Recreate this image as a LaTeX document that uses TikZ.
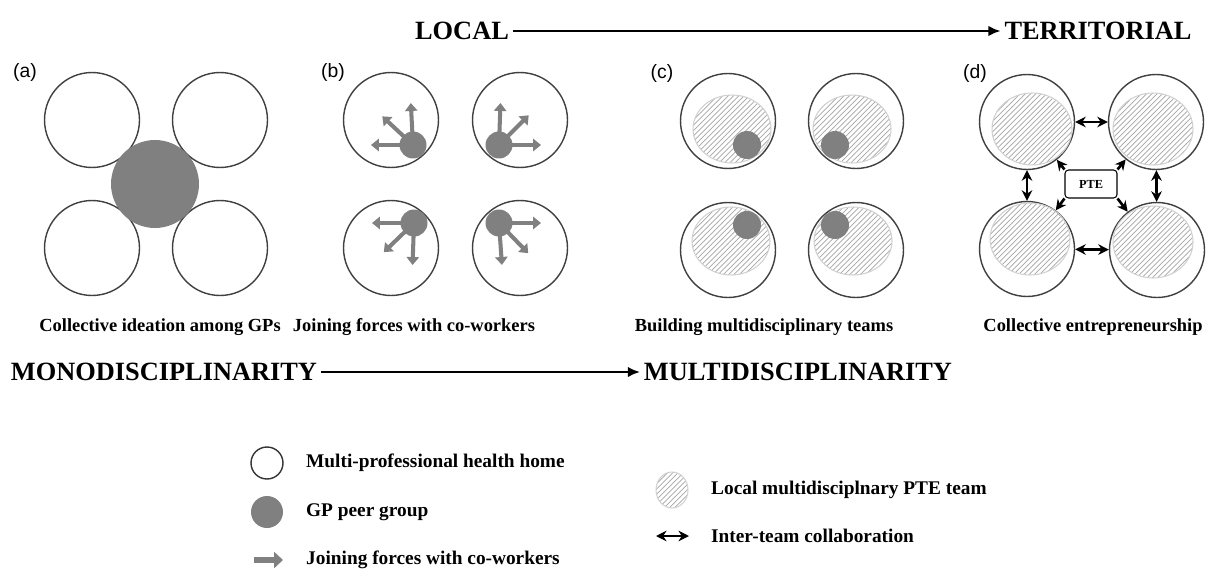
\documentclass[tikz,border=0pt]{standalone}
\usepackage{fontspec}
\setmainfont{Liberation Serif}
\newfontfamily\tagfont{Liberation Sans}
\usetikzlibrary{arrows.meta,shapes.geometric,patterns}

\definecolor{peergray}{RGB}{128,128,128}

\begin{document}
\begin{tikzpicture}[x=0.02cm, y=-0.02cm,
  home/.style={circle, draw=black!75, line width=0.8pt, fill=white,
    minimum size=1.9cm, inner sep=0pt},
  team/.style={ellipse, draw=black!18, line width=0.6pt,
    pattern=north east lines, pattern color=black!35,
    minimum width=1.56cm, minimum height=1.36cm, inner sep=0pt},
  peer/.style={circle, fill=peergray, minimum size=0.54cm, inner sep=0pt},
  tag/.style={font=\tagfont\fontsize{11}{13}\selectfont},
  caption/.style={font=\bfseries\fontsize{10.5}{12}\selectfont},
  axis/.style={font=\bfseries\fontsize{15}{18}\selectfont, inner sep=2pt},
  legtext/.style={font=\bfseries\fontsize{11}{13}\selectfont, anchor=west},
  bigarr/.style={-{Latex[length=7pt,width=6pt]}, line width=1.6pt},
  fatarr/.style={-{Triangle[length=4.5pt,width=7pt]}, line width=2.3pt, draw=peergray},
  linkarr/.style={{Stealth[length=6pt,width=6pt]}-{Stealth[length=6pt,width=6pt]},
    line width=1.5pt},
  ptearr/.style={-{Stealth[length=6pt,width=6pt]}, line width=1.5pt},
]
\useasboundingbox (0,0) rectangle (1220,571);

% Rows
\def\rowtop{31}
\def\rowcap{327}
\def\rowaxis{372}

% ============================================================
% Top axis
% ============================================================
\node[axis] (local) at (462,\rowtop) {LOCAL};
\node[axis] (terr) at (1098,\rowtop) {TERRITORIAL};
\draw[bigarr] (local) -- (terr);

% ============================================================
% (a) Collective ideation
% ============================================================
\node[tag] (taga) at (25,72) {(a)};
\node[home] (a1) at (92,120) {};
\node[home] (a2) at (220,120) {};
\node[home] (a3) at (92,248) {};
\node[home] (a4) at (220,248) {};
\node[peer, minimum size=1.76cm] (a0) at (155,184) {};
\node[caption] (capa) at (160,\rowcap) {Collective ideation among GPs};

% ============================================================
% (b) Joining forces
% ============================================================
\node[tag] (tagb) at (333,72) {(b)};
\node[home] (b1) at (391,120) {};
\node[home] (b2) at (520,120) {};
\node[home] (b3) at (391,248) {};
\node[home] (b4) at (520,248) {};

% y runs downwards, so angles are negated
\coordinate (b1p) at (413,145);
\coordinate (b2p) at (499,145);
\coordinate (b3p) at (414,223);
\coordinate (b4p) at (499,223);
\foreach \a in {93,137,180} \draw[fatarr] (b1p) -- ++(-\a:42);
\foreach \a in {88,45,0} \draw[fatarr] (b2p) -- ++(-\a:42);
\foreach \a in {180,224,268} \draw[fatarr] (b3p) -- ++(-\a:42);
\foreach \a in {0,314,274} \draw[fatarr] (b4p) -- ++(-\a:42);
\node[peer] (b1d) at (b1p) {};
\node[peer] (b2d) at (b2p) {};
\node[peer] (b3d) at (b3p) {};
\node[peer] (b4d) at (b4p) {};
\node[caption] (capb) at (414,\rowcap) {Joining forces with co-workers};

% ============================================================
% (c) Multidisciplinary teams
% ============================================================
\node[tag] (tagc) at (662,73) {(c)};
\node[home] (c1) at (728,121) {};
\node[home] (c2) at (856,121) {};
\node[home] (c3) at (728,250) {};
\node[home] (c4) at (856,250) {};
\node[team] (c1t) at (732,129) {};
\node[team] (c2t) at (852,129) {};
\node[team] (c3t) at (731,241) {};
\node[team] (c4t) at (853,241) {};
\node[peer, minimum size=0.56cm] (c1d) at (747,145) {};
\node[peer, minimum size=0.56cm] (c2d) at (835,145) {};
\node[peer, minimum size=0.56cm] (c3d) at (747,225) {};
\node[peer, minimum size=0.56cm] (c4d) at (835,225) {};
\node[caption] (capc) at (764,\rowcap) {Building multidisciplinary teams};

% ============================================================
% (d) Collective entrepreneurship
% ============================================================
\node[tag] (tagd) at (975,73) {(d)};
\node[home] (d1) at (1027,122) {};
\node[home] (d2) at (1156,122) {};
\node[home] (d3) at (1027,249) {};
\node[home] (d4) at (1157,250) {};
\node[team, minimum width=1.6cm, minimum height=1.44cm] (d1t) at (1032,129) {};
\node[team, minimum width=1.6cm, minimum height=1.44cm] (d2t) at (1153,129) {};
\node[team, minimum width=1.6cm, minimum height=1.44cm] (d3t) at (1030,239) {};
\node[team, minimum width=1.6cm, minimum height=1.44cm] (d4t) at (1153,242) {};
\node[draw, rounded corners=2pt, line width=0.6pt, fill=white,
  minimum width=1.04cm, minimum height=0.56cm, inner sep=0pt,
  font=\bfseries\fontsize{7}{8}\selectfont] (pte) at (1091,184) {PTE};

\draw[linkarr] (d1) -- (d2);
\draw[linkarr] (d3) -- (d4);
\draw[linkarr] (d1) -- (d3);
\draw[linkarr] (d2) -- (d4);
\draw[ptearr] (pte.north west) -- (d1);
\draw[ptearr] (pte.north east) -- (d2);
\draw[ptearr] (pte.south west) -- (d3);
\draw[ptearr] (pte.south east) -- (d4);
\node[caption] (capd) at (1093,\rowcap) {Collective entrepreneurship};

% ============================================================
% Bottom axis
% ============================================================
\node[axis] (mono) at (164,\rowaxis) {MONODISCIPLINARITY};
\node[axis] (multi) at (798,\rowaxis) {MULTIDISCIPLINARITY};
\draw[bigarr] (mono) -- (multi);

% ============================================================
% Legend
% ============================================================
\node[circle, draw=black!80, line width=0.8pt, minimum size=0.64cm, inner sep=0pt] (lhome) at (267,463) {};
\node[legtext] (lhomet) at (300,463) {Multi-professional health home};
\node[peer, minimum size=0.64cm] (lpeer) at (267,512) {};
\node[legtext] (lpeert) at (300,512) {GP peer group};
\coordinate (lfrom) at (254,560);
\coordinate (lto) at (283,560);
\draw[-{Triangle[length=5pt,width=9pt]}, line width=3.5pt, draw=peergray] (lfrom) -- (lto);
\node[legtext] (lfatt) at (300,560) {Joining forces with co-workers};

\node[team, minimum width=0.64cm, minimum height=0.72cm] (lteam) at (672,490) {};
\node[legtext] (lteamt) at (705,490) {Local multidisciplnary PTE team};
\coordinate (llinka) at (656,536);
\coordinate (llinkb) at (689,536);
\draw[linkarr] (llinka) -- (llinkb);
\node[legtext] (llinkt) at (705,536) {Inter-team collaboration};

\end{tikzpicture}
\end{document}
